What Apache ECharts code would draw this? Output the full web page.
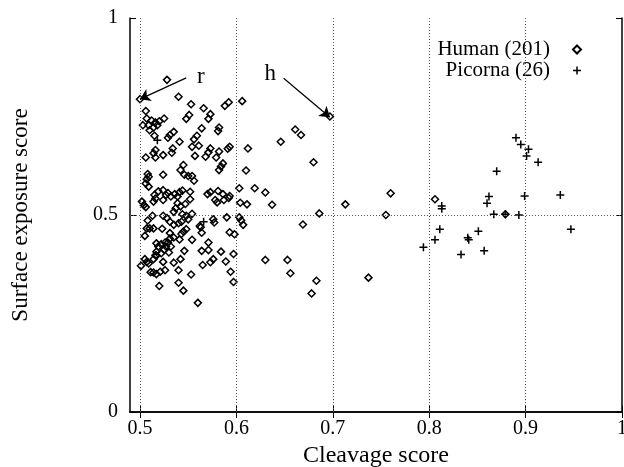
<!DOCTYPE html>
<html>
<head>
<meta charset="utf-8">
<script src="https://cdn.jsdelivr.net/npm/echarts@6/dist/echarts.min.js"></script>
<style>html,body{margin:0;padding:0;background:#fff}#c{width:624px;height:467px}</style>
</head>
<body>
<div id="c"></div>
<script>
// ---- data ----
const xTicks = [0.5, 0.6, 0.7, 0.8, 0.9, 1];
const yTicks = [0, 0.5, 1];
const gridX = [0.5, 0.6, 0.7, 0.8, 0.9];
const gridY = [0.5];
const xTitle = 'Cleavage score';
const yTitle = 'Surface exposure score';
const seriesNames = ['Human (201)', 'Picorna (26)'];

const human = [
  [0.528,0.843],[0.500,0.794],[0.540,0.800],[0.553,0.781],[0.566,0.771],[0.588,0.777],[0.592,0.786],[0.606,0.789],
  [0.506,0.764],[0.525,0.745],[0.551,0.754],[0.548,0.744],[0.573,0.756],[0.571,0.744],[0.564,0.720],[0.582,0.722],
  [0.581,0.713],[0.507,0.745],[0.512,0.740],[0.516,0.735],[0.509,0.728],[0.514,0.722],[0.518,0.728],[0.510,0.715],
  [0.503,0.728],[0.520,0.738],[0.535,0.711],[0.531,0.703],[0.529,0.696],[0.541,0.686],[0.559,0.701],[0.556,0.692],
  [0.554,0.673],[0.561,0.676],[0.573,0.669],[0.571,0.659],[0.568,0.648],[0.582,0.661],[0.593,0.673],[0.591,0.668],
  [0.612,0.669],[0.515,0.701],[0.516,0.665],[0.514,0.657],[0.524,0.652],[0.534,0.669],[0.533,0.658],[0.506,0.646],
  [0.516,0.646],[0.557,0.650],[0.579,0.646],[0.586,0.631],[0.584,0.623],[0.582,0.614],[0.545,0.627],[0.542,0.614],
  [0.546,0.602],[0.550,0.599],[0.554,0.599],[0.556,0.587],[0.524,0.602],[0.508,0.604],[0.509,0.597],[0.507,0.591],
  [0.506,0.580],[0.509,0.572],[0.610,0.613],[0.646,0.686],[0.661,0.717],[0.667,0.703],[0.680,0.634],[0.697,0.750],
  [0.570,0.553],[0.573,0.558],[0.552,0.559],[0.581,0.561],[0.586,0.553],[0.593,0.548],[0.603,0.568],[0.619,0.568],
  [0.630,0.557],[0.519,0.560],[0.524,0.563],[0.529,0.556],[0.536,0.553],[0.541,0.558],[0.544,0.562],[0.515,0.551],
  [0.516,0.542],[0.514,0.534],[0.527,0.551],[0.524,0.538],[0.532,0.547],[0.539,0.547],[0.539,0.530],[0.537,0.517],
  [0.535,0.508],[0.502,0.534],[0.504,0.525],[0.506,0.520],[0.592,0.543],[0.587,0.538],[0.578,0.538],[0.580,0.532],
  [0.604,0.531],[0.611,0.527],[0.637,0.526],[0.713,0.527],[0.760,0.555],[0.806,0.540],[0.755,0.500],[0.686,0.504],
  [0.879,0.502],[0.542,0.522],[0.547,0.528],[0.552,0.540],[0.603,0.494],[0.605,0.486],[0.607,0.475],[0.669,0.476],
  [0.630,0.386],[0.653,0.386],[0.656,0.352],[0.683,0.333],[0.678,0.301],[0.737,0.341],[0.590,0.494],[0.593,0.456],
  [0.598,0.451],[0.597,0.401],[0.594,0.356],[0.597,0.330],[0.589,0.382],[0.584,0.407],[0.576,0.388],[0.573,0.380],
  [0.571,0.430],[0.571,0.411],[0.564,0.455],[0.564,0.409],[0.565,0.373],[0.562,0.472],[0.576,0.489],[0.577,0.481],
  [0.554,0.437],[0.553,0.349],[0.560,0.277],[0.545,0.308],[0.540,0.328],[0.540,0.360],[0.535,0.379],[0.542,0.388],
  [0.546,0.409],[0.520,0.320],[0.526,0.360],[0.521,0.356],[0.517,0.350],[0.514,0.354],[0.511,0.355],[0.501,0.371],
  [0.505,0.388],[0.507,0.381],[0.509,0.377],[0.517,0.397],[0.514,0.388],[0.524,0.381],[0.519,0.420],[0.517,0.407],
  [0.516,0.398],[0.522,0.403],[0.525,0.412],[0.527,0.420],[0.529,0.430],[0.531,0.440],[0.526,0.430],[0.532,0.420],
  [0.530,0.405],[0.505,0.447],[0.507,0.466],[0.510,0.466],[0.514,0.466],[0.508,0.486],[0.513,0.498],[0.524,0.498],
  [0.528,0.492],[0.531,0.483],[0.535,0.475],[0.540,0.479],[0.543,0.483],[0.523,0.465],[0.531,0.454],[0.535,0.443],
  [0.541,0.438],[0.543,0.452],[0.545,0.458],[0.548,0.464],[0.550,0.489],[0.554,0.503],[0.548,0.498],[0.544,0.502],
  [0.563,0.469],[0.517,0.428],[0.522,0.426]
];

const picorna = [
  [0.890,0.696],[0.895,0.679],[0.903,0.667],[0.901,0.650],[0.913,0.634],[0.870,0.611],[0.936,0.551],[0.899,0.548],
  [0.862,0.547],[0.860,0.530],[0.813,0.523],[0.813,0.516],[0.867,0.502],[0.893,0.500],[0.811,0.464],[0.947,0.464],
  [0.806,0.437],[0.851,0.459],[0.840,0.442],[0.841,0.437],[0.794,0.418],[0.833,0.400],[0.857,0.409],[0.518,0.690],
  [0.566,0.483],[0.879,0.502]
];

// annotations
const annoLabels = ['r', 'h'];
const annoLabelPos = [[0.563, 0.850], [0.635, 0.857]];
const annoFrom = [[0.548, 0.848], [0.649, 0.847]];
const annoTo = [[0.500, 0.794], [0.697, 0.748]];

// ---- chart ----
const FONT = 'Liberation Serif';
const chart = echarts.init(document.getElementById('c'), null, {renderer: 'canvas'});
const xMin = 0.5 - 0.1 * 10 / 96.4;
const plusPath = 'path://M3.25,0h1.5v3.25h3.25v1.5h-3.25v3.25h-1.5v-3.25h-3.25v-1.5h3.25z';

const axisLineStyle = {lineStyle: {color: '#000', width: 1.5}};
chart.setOption({
  animation: false,
  backgroundColor: '#fff',
  grid: {left: 130, right: 2, top: 18, bottom: 55, outerBoundsMode: 'none', containLabel: false},
  legend: {
    orient: 'vertical', right: 37, top: 34, align: 'right',
    itemWidth: 8, itemHeight: 8, itemGap: 0,
    textStyle: {fontFamily: FONT, fontSize: 21, color: '#000', padding: [0, 18, 0, 0]},
    data: seriesNames
  },
  xAxis: [{
    type: 'value', min: xMin, max: 1, position: 'bottom',
    name: xTitle, nameLocation: 'middle', nameGap: 31,
    nameTextStyle: {fontFamily: FONT, fontSize: 24, color: '#000'},
    axisLine: axisLineStyle,
    axisTick: {show: true, inside: true, length: 6, customValues: xTicks, lineStyle: {color: '#000'}},
    axisLabel: {customValues: xTicks, fontFamily: FONT, fontSize: 20, color: '#000', margin: 7},
    splitLine: {show: false}
  }, {
    type: 'value', min: xMin, max: 1, position: 'top',
    axisLine: axisLineStyle,
    axisTick: {show: true, inside: true, length: 6, customValues: xTicks, lineStyle: {color: '#000'}},
    axisLabel: {show: false},
    splitLine: {show: false}
  }],
  yAxis: [{
    type: 'value', min: 0, max: 1, interval: 0.5, position: 'left',
    name: yTitle, nameLocation: 'middle', nameGap: 98,
    nameTextStyle: {fontFamily: FONT, fontSize: 23, color: '#000'},
    axisLine: {show: true, lineStyle: {color: '#000', width: 1.5}},
    axisTick: {show: true, inside: true, length: 6, lineStyle: {color: '#000'}},
    axisLabel: {fontFamily: FONT, fontSize: 20, color: '#000', margin: 12},
    splitLine: {show: false}
  }, {
    type: 'value', min: 0, max: 1, interval: 0.5, position: 'right',
    axisLine: {show: true, lineStyle: {color: '#000', width: 1.5}},
    axisTick: {show: true, inside: true, length: 6, lineStyle: {color: '#000'}},
    axisLabel: {show: false},
    splitLine: {show: false}
  }],
  series: [{
    name: seriesNames[0], type: 'scatter', data: human,
    symbol: 'diamond', symbolSize: 7,
    itemStyle: {color: 'rgba(255,255,255,0)', borderColor: '#000', borderWidth: 1.5, opacity: 1},
    z: 3,
    markLine: {
      silent: true, symbol: ['none', 'none'], animation: false,
      label: {show: false},
      lineStyle: {type: [1, 2], color: '#555', width: 1},
      data: gridX.map(v => ({xAxis: v})).concat(gridY.map(v => ({yAxis: v})))
    }
  }, {
    name: seriesNames[1], type: 'scatter', data: picorna,
    symbol: plusPath, symbolSize: 8,
    itemStyle: {color: '#000', opacity: 1},
    z: 3,
    markLine: {
      silent: true, symbol: ['none', 'arrow'], symbolSize: 10, animation: false,
      label: {show: false},
      itemStyle: {color: '#000'},
      lineStyle: {type: 'solid', color: '#000', width: 1.2},
      data: annoFrom.map((f, i) => [{coord: f}, {coord: annoTo[i]}])
    },
    markPoint: {
      silent: true, symbol: 'circle', symbolSize: 0, animation: false,
      label: {show: true, position: 'inside', fontFamily: FONT, fontSize: 23, color: '#000',
        formatter: p => p.name},
      data: annoLabels.map((t, i) => ({name: t, coord: annoLabelPos[i]}))
    }
  }]
});
</script>
</body>
</html>
